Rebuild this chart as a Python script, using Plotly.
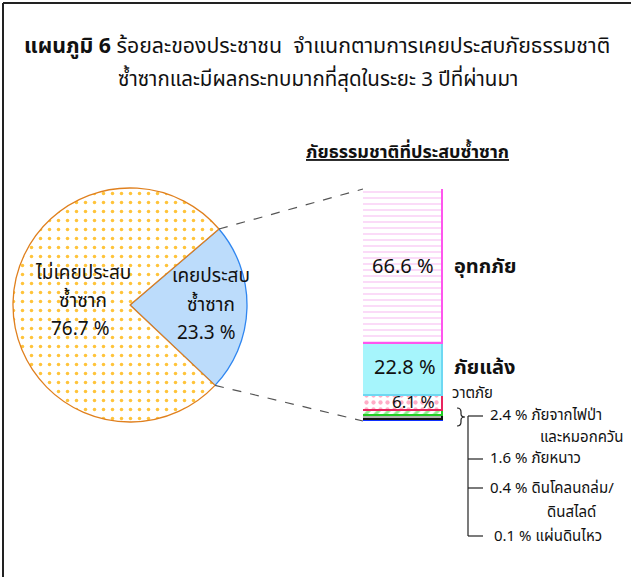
import math
import plotly.graph_objects as go

W, H = 631, 577

# ---------------- data ----------------
pie_labels = ["เคยประสบซ้ำซาก", "ไม่เคยประสบซ้ำซาก"]
pie_values = [23.3, 76.7]

bar_labels = ["แผ่นดินไหว", "ดินโคลนถล่ม/ดินสไลด์", "ภัยหนาว",
              "ภัยจากไฟป่าและหมอกควัน", "วาตภัย", "ภัยแล้ง", "อุทกภัย"]
bar_values = [0.1, 0.4, 1.6, 2.4, 6.1, 22.8, 66.6]

title_bold = "แผนภูมิ 6"
title_rest = "ร้อยละของประชาชน&nbsp;&nbsp;จำแนกตามการเคยประสบภัยธรรมชาติ"
title_line2 = "ซ้ำซากและมีผลกระทบมากที่สุดในระยะ 3 ปีที่ผ่านมา"
bar_title = "ภัยธรรมชาติที่ประสบซ้ำซาก"

FONT = "Tahoma, 'Noto Sans Thai', 'Noto Sans', sans-serif"

# ---------------- layout helpers (pixels -> paper) ----------------
def px(x):
    return x / W

def py(y):
    return 1 - y / H

# pie geometry (pixels)
PCX, PCY, PR = 130, 305, 117
ROT = 49.5  # degrees clockwise from 12 o'clock where first slice starts

# bar geometry (pixels)
BX0, BX1, BY_TOP, BY_BOT = 363, 443, 189, 421

fig = go.Figure()

fig.add_trace(go.Pie(
    labels=pie_labels, values=pie_values, sort=False, direction="clockwise",
    rotation=ROT, textinfo="none", hoverinfo="label+value",
    domain=dict(x=[px(PCX - PR), px(PCX + PR)], y=[py(PCY + PR), py(PCY - PR)]),
    marker=dict(
        colors=["#BCDCFB", "#FFFFFF"],
        line=dict(color=["#2F86F0", "#E0801E"], width=1.3),
        pattern=dict(shape=["", "."], fgcolor=["#BCDCFB", "#FFC43A"],
                     bgcolor=["#BCDCFB", "#FFFFFF"], size=9, solidity=0.12),
    ),
    showlegend=False,
))

bar_fill = ["#FF1010", "#FFFFFF", "#B4B4B4", "#FFFFFF", "#FFFFFF", "#A6F5FC", "#FFFFFF"]
bar_line = ["#FF0000", "#1030FF", "#111111", "#22CC22", "#E8245E", "#6ED8F2", "#FF55EE"]
bar_shape = ["", ".", "", "/", ".", "", "-"]
bar_fg = ["#FF1010", "#1030FF", "#B4B4B4", "#22DD22", "#FF5A8E", "#A6F5FC", "#F8AFF0"]
bar_lw = [2.2, 1.8, 1.6, 1.6, 1.6, 1.6, 1.6]

for i, (lab, val) in enumerate(zip(bar_labels, bar_values)):
    shp = bar_shape[i]
    fig.add_trace(go.Bar(
        x=[0.5], y=[val], width=[1.0], name=lab,
        marker=dict(color=bar_fill[i], line=dict(color=bar_line[i], width=bar_lw[i]),
                    pattern=dict(shape=shp, fgcolor=bar_fg[i], bgcolor=bar_fill[i],
                                 size=7 if shp != "-" else 6,
                                 solidity=0.3 if shp != "/" else 0.45)),
        xaxis="x", yaxis="y", showlegend=False, hoverinfo="name+y",
    ))

fig.update_layout(
    width=W, height=H, margin=dict(l=0, r=0, t=0, b=0),
    paper_bgcolor="white", plot_bgcolor="rgba(0,0,0,0)",
    barmode="stack", bargap=0,
    font=dict(family=FONT, color="#111111"),
    xaxis=dict(domain=[px(BX0), px(BX1)], range=[0, 1], visible=False, fixedrange=True),
    yaxis=dict(domain=[py(BY_BOT), py(BY_TOP)], range=[0, 100], visible=False, fixedrange=True),
)

shapes = []
# frame (top and left)
shapes.append(dict(type="line", xref="paper", yref="paper", x0=px(3), x1=1, y0=py(3), y1=py(3),
                   line=dict(color="#222222", width=2)))
shapes.append(dict(type="line", xref="paper", yref="paper", x0=px(3), x1=px(3), y0=py(3), y1=0,
                   line=dict(color="#222222", width=2)))

# connector lines from pie slice edges to the bar
frac = pie_values[0] / sum(pie_values)
a_start = math.radians(90 - ROT)
a_end = math.radians(90 - ROT - 360 * frac)
p1 = (PCX + PR * math.cos(a_start), PCY - PR * math.sin(a_start))
p2 = (PCX + PR * math.cos(a_end), PCY - PR * math.sin(a_end))
for (x0, y0), yb in [(p1, BY_TOP), (p2, BY_BOT)]:
    shapes.append(dict(type="line", xref="paper", yref="paper",
                       x0=px(x0), y0=py(y0), x1=px(BX0), y1=py(yb),
                       line=dict(color="#555555", width=1.2, dash="dash")))

# curly brace
def P(x, y):
    return f"{px(x):.5f},{py(y):.5f}"

brace = (f"M {P(457,408)} Q {P(461,408)} {P(461,412)} L {P(461,414)} "
         f"Q {P(461,417)} {P(465,417)} Q {P(461,417)} {P(461,420)} L {P(461,422)} "
         f"Q {P(461,426)} {P(457,426)}")
shapes.append(dict(type="path", xref="paper", yref="paper", path=brace,
                   line=dict(color="#222222", width=1.2)))

# tree bracket for small categories
TX = 468
tree_y = [416, 459, 488, 536]
shapes.append(dict(type="line", xref="paper", yref="paper", x0=px(TX), x1=px(TX),
                   y0=py(tree_y[0]), y1=py(tree_y[-1]), line=dict(color="#222222", width=1.2)))
for ty in tree_y:
    shapes.append(dict(type="line", xref="paper", yref="paper", x0=px(TX), x1=px(TX + 15),
                       y0=py(ty), y1=py(ty), line=dict(color="#222222", width=1.2)))

ann = []

def text(x, y, s, size, xanchor="center", bold=False, color="#111111", yanchor="middle", align="center"):
    if bold:
        s = "<b>" + s + "</b>"
    ann.append(dict(xref="paper", yref="paper", x=px(x), y=py(y), text=s, showarrow=False,
                    xanchor=xanchor, yanchor=yanchor, align=align,
                    font=dict(size=size, color=color, family=FONT)))

# title
text(22, 47, "<b>" + title_bold + "</b> " + title_rest, 21.3, xanchor="left")
text(318, 80, title_line2, 20.5)

# pie labels
text(83, 273, "ไม่เคยประสบ", 19)
text(83, 301, "ซ้ำซาก", 19)
text(80, 329, f"{pie_values[1]}&nbsp;%", 19)
text(211, 277, "เคยประสบ", 19)
text(211, 305, "ซ้ำซาก", 19)
text(206, 333, f"{pie_values[0]}&nbsp;%", 19)

# bar title
text(407, 152, "<u>" + bar_title + "</u>", 18, bold=True)

# bar labels
text(403, 267, f"{bar_values[6]}&nbsp;%", 20)
text(452, 267, bar_labels[6], 20, xanchor="left", bold=True)
text(405, 368, f"{bar_values[5]}&nbsp;%", 20)
text(452, 368, bar_labels[5], 20, xanchor="left", bold=True)
text(413, 403, f"{bar_values[4]}&nbsp;%", 17)
text(450, 393, bar_labels[4], 15, xanchor="left")

text(488, 415, f"{bar_values[3]}&nbsp;%&nbsp;ภัยจากไฟป่า", 15, xanchor="left")
text(625, 437, "และหมอกควัน", 15, xanchor="right")
text(488, 459, f"{bar_values[2]}&nbsp;%&nbsp;{bar_labels[2]}", 15, xanchor="left")
text(488, 488, f"{bar_values[1]}&nbsp;%&nbsp;ดินโคลนถล่ม/", 15, xanchor="left")
text(545, 512, "ดินสไลด์", 15, xanchor="left")
text(492, 536, f"{bar_values[0]}&nbsp;%&nbsp;{bar_labels[0]}", 15, xanchor="left")

fig.update_layout(shapes=shapes, annotations=ann)
fig.write_html("out.html", config={"displayModeBar": False},
               post_script="document.body.style.margin='0';document.body.style.overflow='hidden';")
